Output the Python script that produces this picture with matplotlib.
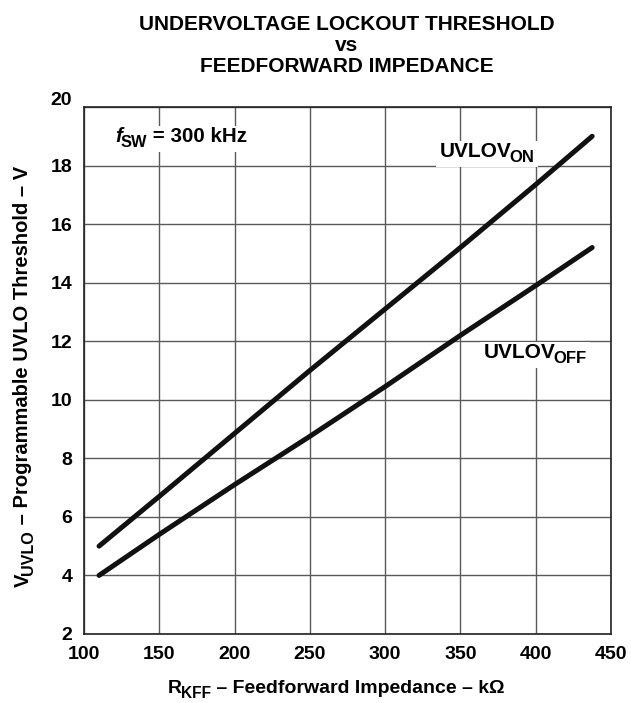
import matplotlib
matplotlib.use("Agg")
from matplotlib import pyplot as plt
from matplotlib.patches import Rectangle
from matplotlib.transforms import IdentityTransform, ScaledTranslation

# values
r_kff = [110, 150, 200, 250, 300, 350, 400, 437.5]
uvlo_on = [5.0, 6.7, 8.85, 11.0, 13.1, 15.2, 17.35, 19.0]
uvlo_off = [4.0, 5.4, 7.1, 8.75, 10.45, 12.2, 13.9, 15.2]
x_ticks = [100, 150, 200, 250, 300, 350, 400, 450]
y_ticks = [2, 4, 6, 8, 10, 12, 14, 16, 18, 20]

title_lines = ['UNDERVOLTAGE LOCKOUT THRESHOLD', 'vs', 'FEEDFORWARD IMPEDANCE']
xlabel_parts = [('R', 'n'), ('KFF', 's'), (' \u2013 Feedforward Impedance \u2013 k\u03a9', 'n')]
ylabel_parts = [('V', 'n'), ('UVLO', 's'), (' \u2013 Programmable UVLO Threshold \u2013 V', 'n')]
fsw_parts = [('f', 'i'), ('SW', 's'), (' = 300 kHz', 'n')]
on_parts = [('UVLOV', 'n'), ('ON', 's')]
off_parts = [('UVLOV', 'n'), ('OFF', 's')]

plt.rcParams['font.family'] = ['Liberation Sans', 'DejaVu Sans']
plt.rcParams['font.weight'] = 'bold'

fig = plt.figure(figsize=(6.31, 7.03), dpi=100)
ax = fig.add_axes([0.1331, 0.0982, 0.8352, 0.7496])
renderer = fig.canvas.get_renderer()

ax.plot(r_kff, uvlo_on, color='#111111', lw=3.6, solid_capstyle='round')
ax.plot(r_kff, uvlo_off, color='#111111', lw=3.6, solid_capstyle='round')

ax.set_xlim(100, 450)
ax.set_ylim(2, 20)
ax.set_xticks(x_ticks)
ax.set_yticks(y_ticks)
ax.tick_params(axis='x', length=0, labelsize=14, pad=9)
ax.tick_params(axis='y', length=0, labelsize=14, pad=8.5)
for lab in ax.get_xticklabels() + ax.get_yticklabels():
    lab.set_fontweight('bold')
# top label sits a little above the frame in the original
top = ax.get_yticklabels()[-1]
top.set_transform(top.get_transform() + ScaledTranslation(0, 6 / 72, fig.dpi_scale_trans))
ax.grid(True, color='#5a5a5a', lw=1.0)
for s in ax.spines.values():
    s.set_linewidth(1.2)
    s.set_color('#222222')


def measure(parts, size, sub_scale=0.8):
    total = 0
    for txt, kind in parts:
        fs = size * sub_scale if kind == 's' else size
        t = fig.text(0, 0, txt, fontsize=fs, fontweight='bold',
                     fontstyle='italic' if kind == 'i' else 'normal')
        total += t.get_window_extent(renderer).width
        t.remove()
    return total


def compose(target, x, y, parts, size, rotation=0, sub_scale=0.8, drop=0.24, zorder=3):
    # lay out text pieces along a baseline, starting at display point (x, y)
    px = size * fig.dpi / 72
    ux, uy = (1, 0) if rotation == 0 else (0, 1)
    dx, dy = (0, -1) if rotation == 0 else (1, 0)
    pos = 0
    boxes = []
    for txt, kind in parts:
        fs = size * sub_scale if kind == 's' else size
        off = drop * px if kind == 's' else 0
        if kind == 's':
            pos -= 0.06 * px
        t = target.text(x + ux * pos + dx * off, y + uy * pos + dy * off, txt,
                        transform=IdentityTransform(), fontsize=fs, fontweight='bold',
                        fontstyle='italic' if kind == 'i' else 'normal',
                        ha='left', va='baseline', rotation=rotation,
                        rotation_mode='anchor', zorder=zorder)
        ext = t.get_window_extent(renderer)
        boxes.append(ext)
        pos += ext.width if rotation == 0 else ext.height
    return boxes


def plot_label(xd, yd, parts, size):
    x, y = ax.transData.transform((xd, yd))
    boxes = compose(ax, x, y, parts, size)
    x0 = min(b.x0 for b in boxes) - 3
    x1 = max(b.x1 for b in boxes) + 3
    y0 = min(b.y0 for b in boxes) - 2
    y1 = max(b.y1 for b in boxes) + 1
    ax.add_patch(Rectangle((x0, y0), x1 - x0, y1 - y0, transform=IdentityTransform(),
                           facecolor='white', edgecolor='none', zorder=1.8))


plot_label(120.6, 18.81, fsw_parts, 14.8)
plot_label(336, 18.30, on_parts, 15)
plot_label(365.2, 11.42, off_parts, 15)

# axis labels (pixel positions measured on the 631x703 original)
compose(fig, 168, 703 - 693, xlabel_parts, 14)
yl_len = measure(ylabel_parts, 14.5)
compose(fig, 28.5, 703 - 165 - yl_len, ylabel_parts, 14.5, rotation=90)

for i, line in enumerate(title_lines):
    fig.text(0.549, 1 - (30 + 21 * i) / 703, line, ha='center', va='baseline',
             fontsize=15, fontweight='bold')

fig.savefig('out.png', dpi=100, facecolor='white')
